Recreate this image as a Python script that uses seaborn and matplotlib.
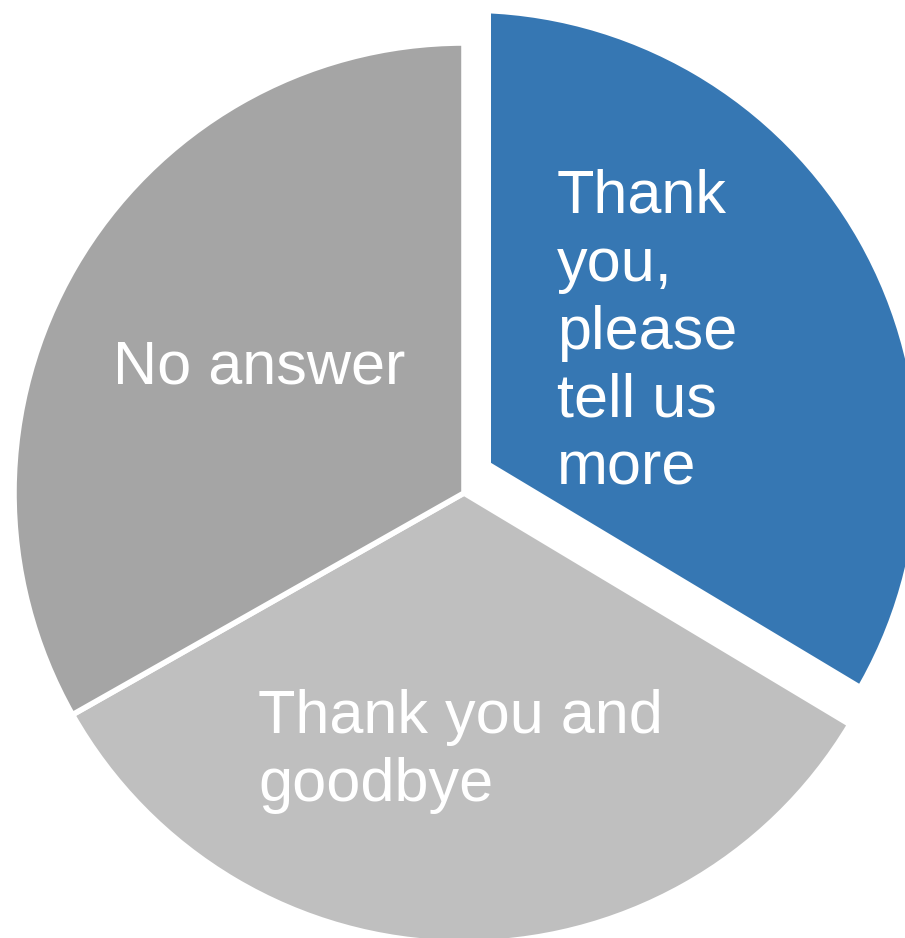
import matplotlib
matplotlib.use("Agg")
import matplotlib.pyplot as plt
from matplotlib.patches import Wedge
import seaborn as sns

# survey answers, share of responses (%)
labels = ["Thank\nyou,\nplease\ntell us\nmore", "Thank you and\ngoodbye", "No answer"]
shares = [33.6, 33.2, 33.2]
colors = ["#3677B3", "#BFBFBF", "#A5A5A5"]

sns.set_theme(style="white")
plt.rcParams['font.family'] = ['Liberation Sans', 'DejaVu Sans']

fig = plt.figure(figsize=(9.05, 9.38), dpi=100)
# pie centre ~ (464, 493) px, radius ~ 450 px
R = 450
ax = fig.add_axes([(464 - R) / 905, (938 - 493 - R) / 938, 2 * R / 905, 2 * R / 938])

wedges, texts = ax.pie(
    shares, labels=labels, colors=colors, startangle=90, counterclock=False,
    labeldistance=0.55,
    wedgeprops=dict(edgecolor="white", linewidth=4),
    textprops=dict(color="white", fontsize=44),
)
for t in texts:
    t.set_ha("center")
    t.set_va("center")
    t.set_multialignment("left")
    t.set_linespacing(1.25)

# pull the blue slice out: the arc moves up, the corner moves up and right
arc_shift = (0.007, 0.067)
corner_shift = (0.06, 0.067)
blue = wedges[0]
blue.set_center(arc_shift)
blue.set_edgecolor("none")
clip = Wedge(corner_shift, 2, blue.theta1, blue.theta2, transform=ax.transData)
blue.set_clip_on(True)
blue.set_clip_box(None)
blue.set_clip_path(clip)

x, y = texts[0].get_position()
texts[0].set_position((x - 0.132 + corner_shift[0], y + 0.017 + corner_shift[1]))

x, y = texts[1].get_position()
texts[1].set_position((x, y - 0.025))

x, y = texts[2].get_position()
texts[2].set_position((x + 0.02, y))

ax.set_xlim(-1, 1)
ax.set_ylim(-1, 1)
ax.set_aspect("auto")
ax.axis("off")

fig.savefig("out.png", dpi=100)
